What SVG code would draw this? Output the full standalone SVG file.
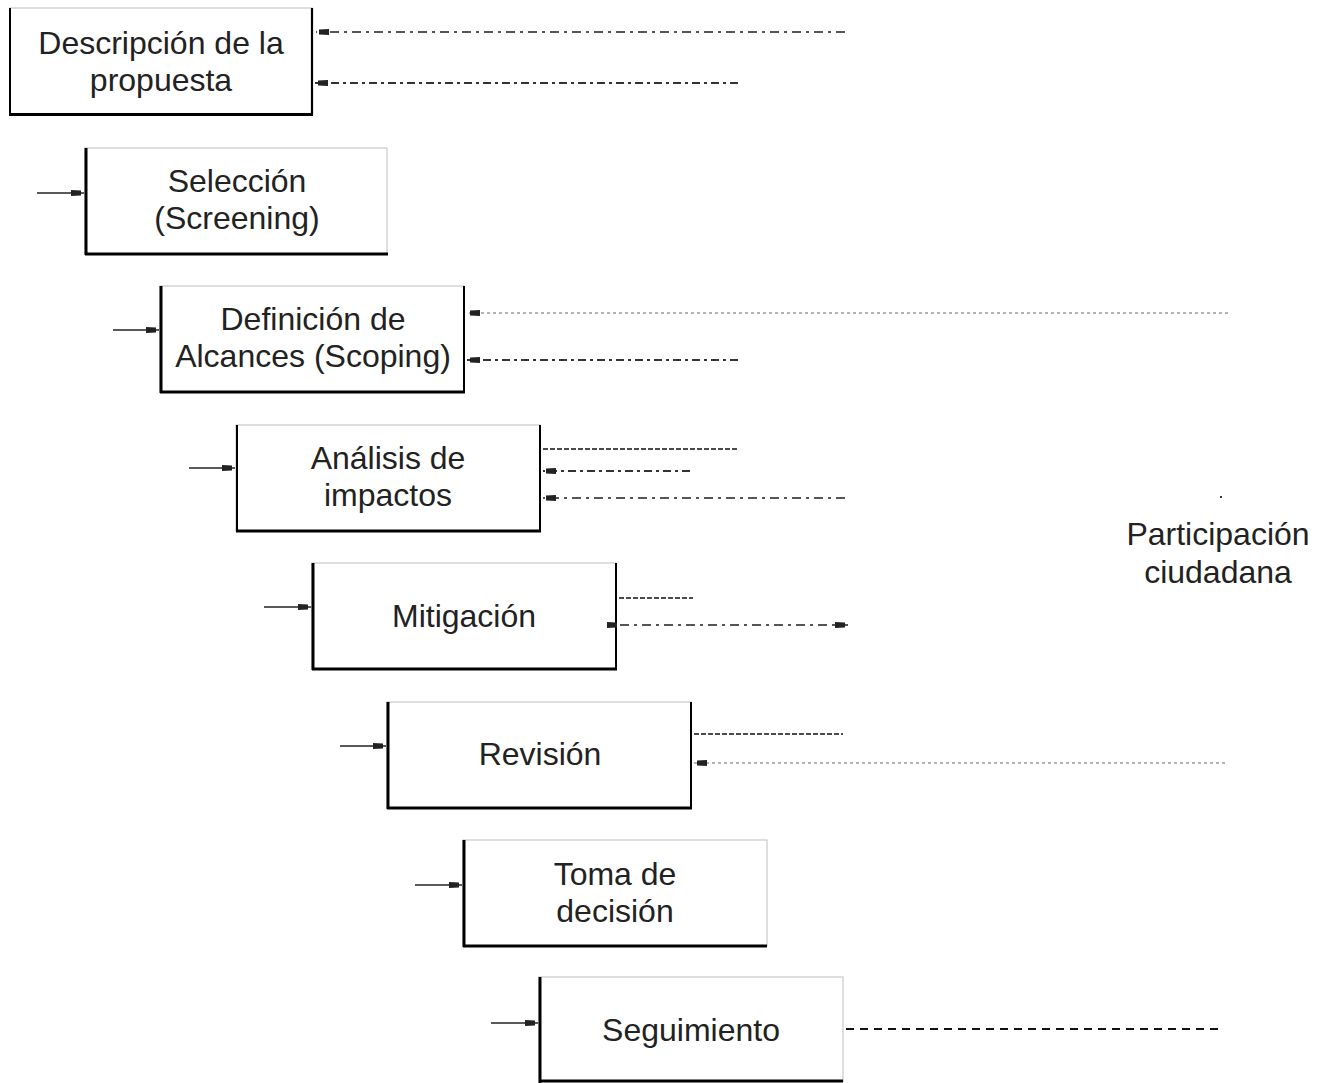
<svg xmlns="http://www.w3.org/2000/svg" width="1330" height="1083" viewBox="0 0 1330 1083">
<defs>
<marker id="ah" markerUnits="userSpaceOnUse" viewBox="0 0 16 10" refX="16" refY="5" markerWidth="16" markerHeight="10" orient="auto">
<path d="M3,2 L13,2.5 L13,7.5 L3,8 Z" fill="#222"/>
</marker>
<style>
.box{fill:#fff;stroke:#c8c8c8;stroke-width:1.2}
.edge{stroke:#000;fill:none}
.t{font-family:"Liberation Sans",Arial,sans-serif;font-size:32px;fill:#222;text-anchor:middle}
.in{stroke:#222;stroke-width:1.4;fill:none}
.dd{stroke:#555;stroke-width:1.8;fill:none;stroke-dasharray:9 5 3 5}
.dd2{stroke:#333;stroke-width:2;fill:none;stroke-dasharray:8 4 3 4}
.dot{stroke:#999;stroke-width:1.5;fill:none;stroke-dasharray:3 3}
.dash{stroke:#111;stroke-width:1.5;fill:none;stroke-dasharray:5 2}
.dashL{stroke:#111;stroke-width:1.8;fill:none;stroke-dasharray:8 6}
</style>
</defs>
<rect width="1330" height="1083" fill="#fff"/>

<g id="n1">
<rect class="box" x="10" y="8" width="302" height="106"/>
<line class="edge" x1="10" y1="8" x2="10" y2="115" stroke="#333" stroke-width="2"/>
<line class="edge" x1="312" y1="8" x2="312" y2="115" stroke-width="2.2"/>
<line class="edge" x1="9" y1="114.5" x2="313" y2="114.5" stroke-width="3"/>
<text class="t" x="161" y="54">Descripción de la</text>
<text class="t" x="161" y="91">propuesta</text>
</g>

<g id="n2">
<rect class="box" x="85" y="148" width="302" height="106"/>
<line class="edge" x1="86" y1="148" x2="86" y2="255" stroke-width="3"/>
<line class="edge" x1="85" y1="254" x2="388" y2="254" stroke-width="3"/>
<text class="t" x="237" y="192">Selección</text>
<text class="t" x="237" y="229">(Screening)</text>
</g>

<g id="n3">
<rect class="box" x="160" y="286" width="304" height="106"/>
<line class="edge" x1="161" y1="286" x2="161" y2="393" stroke-width="3"/>
<line class="edge" x1="464" y1="286" x2="464" y2="393" stroke-width="2"/>
<line class="edge" x1="160" y1="392" x2="465" y2="392" stroke-width="3"/>
<text class="t" x="313" y="330">Definición de</text>
<text class="t" x="313" y="367">Alcances (Scoping)</text>
</g>

<g id="n4">
<rect class="box" x="236" y="425" width="304" height="106"/>
<line class="edge" x1="237" y1="425" x2="237" y2="532" stroke-width="2"/>
<line class="edge" x1="540" y1="425" x2="540" y2="532" stroke-width="2"/>
<line class="edge" x1="236" y1="531" x2="541" y2="531" stroke-width="3"/>
<text class="t" x="388" y="469">Análisis de</text>
<text class="t" x="388" y="506">impactos</text>
</g>

<g id="n5">
<rect class="box" x="312" y="563" width="304" height="106"/>
<line class="edge" x1="313" y1="563" x2="313" y2="670" stroke-width="3"/>
<line class="edge" x1="616" y1="563" x2="616" y2="670" stroke-width="2"/>
<line class="edge" x1="312" y1="669" x2="617" y2="669" stroke-width="3"/>
<text class="t" x="464" y="627">Mitigación</text>
</g>

<g id="n6">
<rect class="box" x="387" y="702" width="304" height="106"/>
<line class="edge" x1="388" y1="702" x2="388" y2="809" stroke-width="3"/>
<line class="edge" x1="691" y1="702" x2="691" y2="809" stroke-width="2"/>
<line class="edge" x1="387" y1="808" x2="692" y2="808" stroke-width="3"/>
<text class="t" x="540" y="765">Revisión</text>
</g>

<g id="n7">
<rect class="box" x="463" y="840" width="304" height="106"/>
<line class="edge" x1="464" y1="840" x2="464" y2="947" stroke-width="3"/>
<line class="edge" x1="463" y1="946" x2="767" y2="946" stroke-width="3"/>
<text class="t" x="615" y="885">Toma de</text>
<text class="t" x="615" y="922">decisión</text>
</g>

<g id="n8">
<rect class="box" x="539" y="977" width="304" height="104"/>
<line class="edge" x1="540" y1="977" x2="540" y2="1083" stroke-width="3"/>
<line class="edge" x1="539" y1="1081" x2="843" y2="1081" stroke-width="3"/>
<text class="t" x="691" y="1041">Seguimiento</text>
</g>

<g id="label">
<text class="t" x="1218" y="545">Participación</text>
<text class="t" x="1218" y="583">ciudadana</text>
<rect x="1220" y="496" width="2" height="2" fill="#333"/>
</g>

<g id="connectors">
<line class="in" x1="37" y1="193" x2="84" y2="193" marker-end="url(#ah)"/>
<line class="in" x1="113" y1="330" x2="159" y2="330" marker-end="url(#ah)"/>
<line class="in" x1="189" y1="468" x2="235" y2="468" marker-end="url(#ah)"/>
<line class="in" x1="264" y1="607" x2="311" y2="607" marker-end="url(#ah)"/>
<line class="in" x1="340" y1="746" x2="386" y2="746" marker-end="url(#ah)"/>
<line class="in" x1="415" y1="885" x2="462" y2="885" marker-end="url(#ah)"/>
<line class="in" x1="491" y1="1023" x2="538" y2="1023" marker-end="url(#ah)"/>

<line class="dd" x1="845" y1="32" x2="316" y2="32" marker-end="url(#ah)"/>
<line class="dd2" x1="738" y1="83" x2="315" y2="83" marker-end="url(#ah)"/>

<line class="dot" x1="1228" y1="313" x2="467" y2="313" marker-end="url(#ah)"/>
<line class="dd2" x1="738" y1="360" x2="467" y2="360" marker-end="url(#ah)"/>

<line class="dash" x1="543" y1="449" x2="738" y2="449"/>
<line class="dd2" x1="690" y1="471" x2="543" y2="471" marker-end="url(#ah)"/>
<line class="dd" x1="845" y1="498" x2="543" y2="498" marker-end="url(#ah)"/>

<line class="dash" x1="619" y1="598" x2="693" y2="598"/>
<line class="dd" x1="620" y1="625" x2="848" y2="625" marker-start="url(#ah)" marker-end="url(#ah)"/>

<line class="dash" x1="694" y1="734" x2="843" y2="734"/>
<line class="dot" x1="1225" y1="763" x2="694" y2="763" marker-end="url(#ah)"/>

<line class="dashL" x1="846" y1="1029" x2="1222" y2="1029"/>
</g>
</svg>
